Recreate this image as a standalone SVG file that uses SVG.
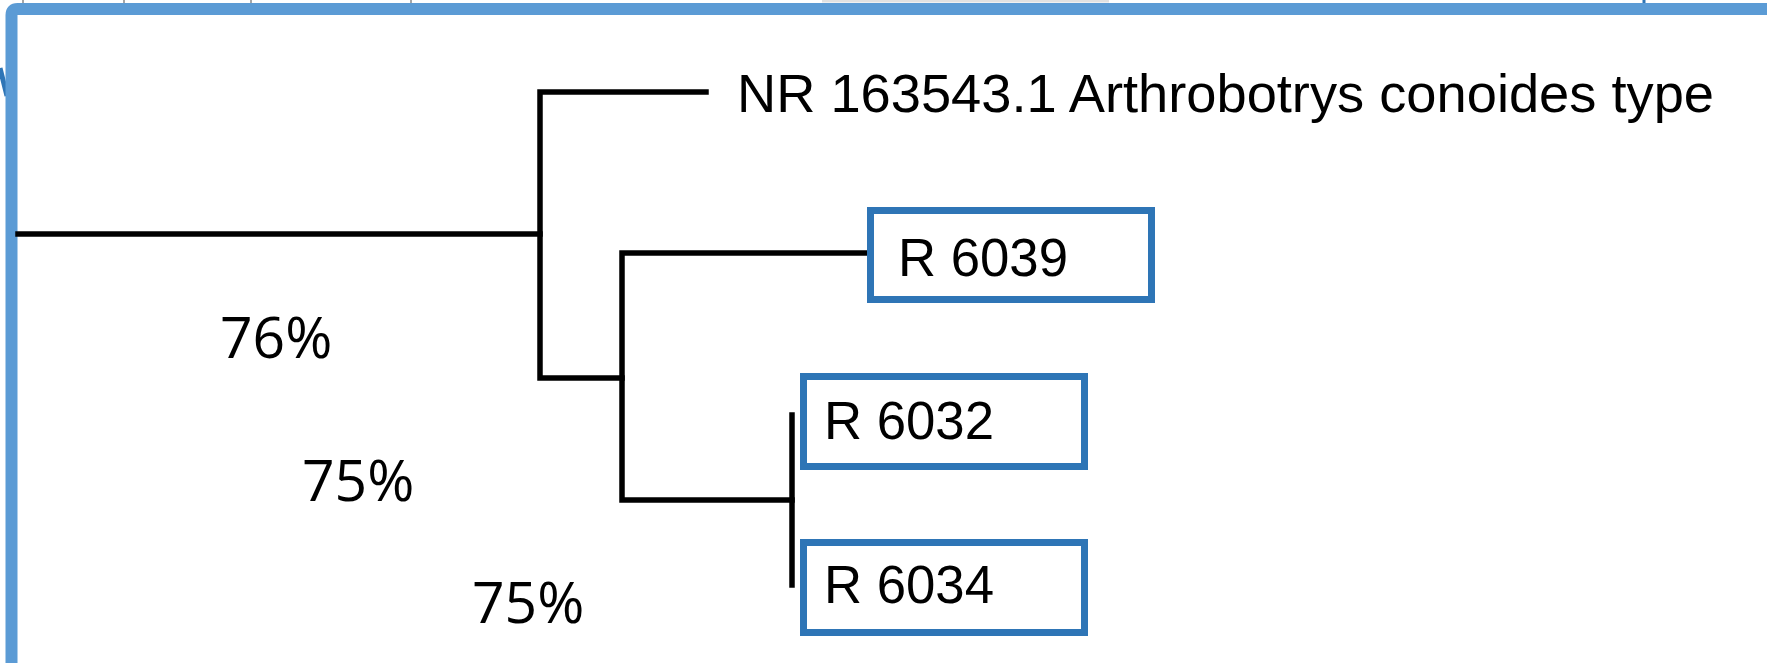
<svg xmlns="http://www.w3.org/2000/svg" width="1767" height="663" viewBox="0 0 1767 663">
<style>
.frame{fill:none;stroke:#5b9bd5;stroke-width:12;stroke-linejoin:round}
.br{fill:none;stroke:#000;stroke-width:5.5;stroke-linecap:square;stroke-linejoin:miter}
.box{fill:#fff;stroke:#2e75b6;stroke-width:7}
.lbl{font-family:"Liberation Sans",Arial,sans-serif;fill:#000}
.pct{font-family:"Open Sans","Noto Sans",sans-serif;font-size:57px;fill:#000}
</style>
<rect width="1767" height="663" fill="#fff"/>
<g id="decor">
<g stroke="#888" stroke-width="1.5">
<line x1="23" y1="0" x2="23" y2="4"/>
<line x1="124" y1="0" x2="124" y2="4"/>
<line x1="251" y1="0" x2="251" y2="4"/>
<line x1="411" y1="0" x2="411" y2="4"/>
</g>
<rect x="822" y="0" width="287" height="2.5" fill="#aaa" opacity="0.35"/>
<line x1="1644" y1="0" x2="1644" y2="4" stroke="#2e75b6" stroke-width="3"/>
<line x1="0" y1="68" x2="7" y2="96" stroke="#2e75b6" stroke-width="5"/>
<path class="frame" d="M11.5 663 V15 Q11.5 9 17.5 9 H1767"/>
</g>
<g id="connectors">
<path class="br" d="M18 234 H540"/>
<path class="br" d="M706 92 H540 V378 H622"/>
<path class="br" d="M867 253 H622 V500 H792"/>
<path class="br" d="M792 415 V585" stroke-width="4.5"/>
</g>
<g id="n-nr163543">
<text class="lbl" x="737" y="112" font-size="54" textLength="977" lengthAdjust="spacingAndGlyphs">NR 163543.1 Arthrobotrys conoides type</text>
</g>
<g id="n-r6039">
<rect class="box" x="870.5" y="210.5" width="281" height="89"/>
<text class="lbl" x="898" y="276" font-size="53" textLength="170" lengthAdjust="spacingAndGlyphs">R 6039</text>
</g>
<g id="n-r6032">
<rect class="box" x="803.5" y="376.5" width="281" height="90"/>
<text class="lbl" x="824" y="439" font-size="53" textLength="170" lengthAdjust="spacingAndGlyphs">R 6032</text>
</g>
<g id="n-r6034">
<rect class="box" x="803.5" y="542.5" width="281" height="90"/>
<text class="lbl" x="824" y="603" font-size="53" textLength="170" lengthAdjust="spacingAndGlyphs">R 6034</text>
</g>
<g id="support-labels">
<text class="pct" x="220" y="358">76%</text>
<text class="pct" x="302" y="501">75%</text>
<text class="pct" x="472" y="623">75%</text>
</g>
</svg>
